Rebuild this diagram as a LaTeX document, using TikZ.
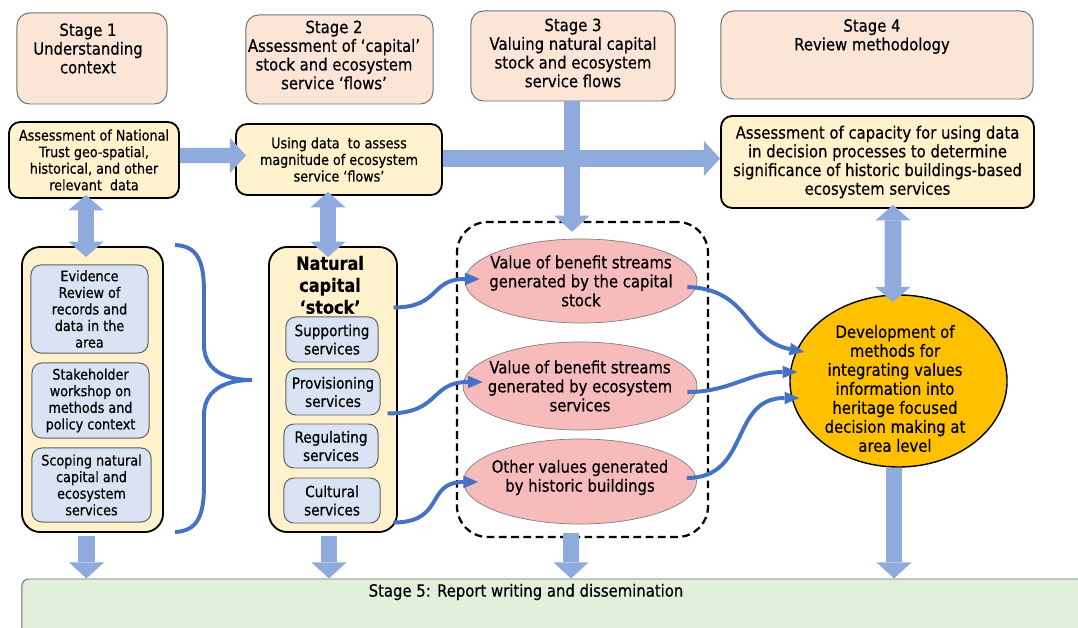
\documentclass[tikz,border=0pt]{standalone}
\usepackage{fontspec}
\setmainfont{DejaVu Sans}[FakeStretch=0.88, FakeBold=0.5]
\usepackage{xcolor}
\usetikzlibrary{arrows.meta}
\usetikzlibrary{shapes.geometric}
\usetikzlibrary{calc}

\definecolor{stagepink}{HTML}{FBE5D6}
\definecolor{stageedge}{HTML}{6F6F6F}
\definecolor{boxyellow}{HTML}{FFF2CC}
\definecolor{itemblue}{HTML}{DAE3F3}
\definecolor{itemedge}{HTML}{5F5F5F}
\definecolor{valpink}{HTML}{F8BBBB}
\definecolor{valedge}{HTML}{7F7F7F}
\definecolor{methodgold}{HTML}{FFC000}
\definecolor{reportgreen}{HTML}{E2EFDA}
\definecolor{arrowblue}{HTML}{8FAADC}
\definecolor{linkblue}{HTML}{4472C4}

\begin{document}
\begin{tikzpicture}[
        x = 0.025cm, y = -0.025cm, % one unit is one pixel of the sketch
        semithick
    ]

        \tikzstyle{stagebox}=[draw = stageedge, fill = stagepink, line width = 0.7pt, rounded corners = 9pt]
        \tikzstyle{bigtext}=[align = center, inner sep = 0pt, font = \fontsize{12}{13.3}\selectfont]
        \tikzstyle{elltext}=[align = center, inner sep = 0pt, font = \fontsize{12}{13.5}\selectfont]
        \tikzstyle{smalltext}=[align = center, font = \fontsize{10.3}{11.8}\selectfont]
        \tikzstyle{servicetext}=[font = \fontsize{11}{13}\selectfont]
        \tikzstyle{databox}=[draw = black, fill = boxyellow, line width = 1.3pt, rounded corners = 8pt, align = center]
        \tikzstyle{groupbox}=[draw = black, fill = boxyellow, line width = 1.3pt, rounded corners = 13pt]
        \tikzstyle{itembox}=[draw = itemedge, fill = itemblue, line width = 0.7pt, rounded corners = 7pt, align = center, inner sep = 1pt]
        \tikzstyle{valell}=[ellipse, draw = valedge, fill = valpink, line width = 0.5pt, inner sep = 0pt]
        \tikzstyle{flow}=[arrowblue, line width = 12pt, -{Triangle[length = 11.5pt, width = 25pt, line width = 0pt]}]
        \tikzstyle{twoway}=[arrowblue, line width = 12pt, {Triangle[length = 11pt, width = 25pt, line width = 0pt]}-{Triangle[length = 11pt, width = 25pt, line width = 0pt]}]
        \tikzstyle{link}=[linkblue, line width = 2.8pt, -{Triangle[length = 10.5pt, width = 9pt, line width = 0pt]}]
        \tikzstyle{bracket}=[linkblue, line width = 2.8pt]

        \useasboundingbox (0,0) rectangle (1078,628);
        \clip (0,0) rectangle (1078,628);

        % stage 5 strip along the bottom
        \node[draw = stageedge, fill = reportgreen, line width = 0.7pt, rounded corners = 5pt,
              minimum width = 26.825cm, minimum height = 1.65cm] (st5) at (558.5,612) {};
        \node[bigtext] (st5t) at (526,592) {Stage 5: Report writing and dissemination};

        % stage headers
        \node[stagebox, minimum width = 3.75cm, minimum height = 2.275cm] (st1) at (92,58.5) {};
        \node[stagebox, minimum width = 4.675cm, minimum height = 2.225cm] (st2) at (339.5,59.5) {};
        \node[stagebox, minimum width = 5.1cm, minimum height = 2.25cm] (st3) at (573,56) {};
        \node[stagebox, minimum width = 7.8cm, minimum height = 2.2cm] (st4) at (877,55) {};
        \node[bigtext] (st1t) at (88,48.5) {Stage 1\\Understanding\\context};
        \node[bigtext] (st2t) at (334,55) {Stage 2\\Assessment of ‘capital’\\stock and ecosystem\\service ‘flows’};
        \node[bigtext] (st3t) at (573,53) {Stage 3\\Valuing natural capital\\stock and ecosystem\\service flows};
        \node[bigtext] (st4t) at (872,36.5) {Stage 4\\Review methodology};

        % data boxes
        \node[databox, smalltext, minimum width = 4.25cm, minimum height = 1.9cm] (a1) at (94,160)
            {Assessment of National\\Trust geo-spatial,\\historical, and other\\relevant\ \ data};
        \node[databox, smalltext, minimum width = 5.15cm, minimum height = 1.775cm] (a2) at (339,159.5)
            {Using data\ \ to assess\\magnitude of ecosystem\\service ‘flows’};
        \node[databox, bigtext, minimum width = 7.825cm, minimum height = 2.3cm] (a4) at (877.5,162)
            {Assessment of capacity for using data\\in decision processes to determine\\significance of historic buildings-based\\ecosystem services};

        % stage 1 group
        \node[groupbox, minimum width = 3.525cm, minimum height = 7.125cm] (lbox) at (92.5,389.5) {};
        \node[itembox, smalltext, minimum width = 2.925cm, minimum height = 2.2cm] (ev) at (89.5,309)
            {Evidence\\Review of\\records and\\data in the\\area};
        \node[itembox, smalltext, minimum width = 2.925cm, minimum height = 1.875cm] (sh) at (90.5,400.5)
            {Stakeholder\\workshop on\\methods and\\policy context};
        \node[itembox, smalltext, minimum width = 2.975cm, minimum height = 1.85cm] (sc) at (91.5,485)
            {Scoping natural\\capital and\\ecosystem\\services};

        % natural capital stock
        \node[groupbox, minimum width = 3.2cm, minimum height = 7.125cm] (nbox) at (333,389.5) {};
        \node[align = center, inner sep = 0pt, font = \bfseries\fontsize{13}{15.6}\selectfont] (ntitle) at (330,285)
            {Natural\\capital\\‘stock’};
        \node[itembox, servicetext, minimum width = 2.3cm, minimum height = 1.125cm] (sup) at (332,339.5) {Supporting\\services};
        \node[itembox, servicetext, minimum width = 2.35cm, minimum height = 1.15cm] (pro) at (333,392) {Provisioning\\services};
        \node[itembox, servicetext, minimum width = 2.35cm, minimum height = 1.1cm] (reg) at (331,446) {Regulating\\services};
        \node[itembox, servicetext, minimum width = 2.4cm, minimum height = 1.125cm] (cul) at (332,500.5) {Cultural\\services};

        % values group
        \node[draw = black, line width = 1.6pt, dash pattern = on 5.5pt off 3.2pt, rounded corners = 22pt,
              minimum width = 6.275cm, minimum height = 7.875cm] (val) at (582.5,379.5) {};
        \node[valell, minimum width = 5.8cm, minimum height = 2.1cm] (e1) at (581,281) {};
        \node[valell, minimum width = 5.85cm, minimum height = 2.2cm] (e2) at (580,386) {};
        \node[valell, minimum width = 5.825cm, minimum height = 2.125cm] (e3) at (580,481.5) {};
        \node[elltext] (e1t) at (581,281) {Value of benefit streams\\generated by the capital\\stock};
        \node[elltext] (e2t) at (580,386) {Value of benefit streams\\generated by ecosystem\\services};
        \node[elltext] (e3t) at (580,477.5) {Other values generated\\by historic buildings};

        % methods
        \node[ellipse, draw = black, fill = methodgold, line width = 1pt, inner sep = 0pt,
              minimum width = 5.425cm, minimum height = 4.3cm] (circ) at (898.5,381) {};
        \node[elltext] (circt) at (895,388.5)
            {Development of\\methods for\\integrating values\\information into\\heritage focused\\decision making at\\area level};

        % brace
        \draw[bracket] (175,245) .. controls (198,246) and (204,262) .. (204,292) -- (204,345)
            .. controls (204,368) and (222,380) .. (252,380)
            .. controls (222,380) and (204,392) .. (204,415) -- (204,485)
            .. controls (204,515) and (198,531) .. (175,532);

        % block arrows
        \draw[flow] ($(st3.south)+(-1,0)$) -- ($(st3.south |- val.north)+(-1,11)$);
        \draw[flow, line width = 10.7pt] ($(a1.east)+(0,-4.5)$) -- ($(a2.west)+(11,-4)$);
        \draw[flow] ($(a2.east)+(0,-1)$) -- ($(a4.west)+(0,-3.5)$);
        \draw[twoway] ($(a1.south)+(-8,-4)$) -- ($(lbox.north)+(-6.5,11)$);
        \draw[twoway] ($(a2.south)+(-11,-4)$) -- ($(nbox.north)+(-5,11)$);
        \draw[twoway] ($(a4.south)+(15.5,-4)$) -- ($(circ.north)+(-5.5,8)$);
        \draw[flow] ($(lbox.south)+(-6,3)$) -- ($(lbox.south |- st5.north)+(-6,0)$);
        \draw[flow] ($(nbox.south)+(-4,3)$) -- ($(nbox.south |- st5.north)+(-4,0)$);
        \draw[flow] ($(val.south)+(-11.5,-5)$) -- ($(val.south |- st5.north)+(-11.5,0)$);
        \draw[flow] ($(circ.south)+(-4.5,0)$) -- ($(circ.south |- st5.north)+(-4.5,0)$);

        % curved links
        \draw[link] ($(sup.north east)+(15,-9)$) .. controls +(47,0) and +(-50,0) .. ($(e1.west)+(15,-2)$);
        \draw[link] ($(pro.south east)+(7,-2)$) .. controls +(53,0) and +(-53,0) .. ($(e2.west)+(20,-4)$);
        \draw[link] ($(cul.south east)+(13,-1)$) .. controls +(52,0) and +(-53,0) .. ($(e3.west)+(15,0.5)$);
        \draw[link] ($(e1.east)+(-10,6)$) .. controls +(63,2) and +(-60,-12) .. ($(circ.west)+(15,-29)$);
        \draw[link] ($(e2.east)+(-10,6)$) .. controls +(43,0) and +(-48,0) .. ($(circ.west)+(8,-9)$);
        \draw[link] ($(e3.east)+(-10,-3.5)$) .. controls +(64,0) and +(-70,0) .. ($(circ.west)+(10,17)$);

\end{tikzpicture}
\end{document}
